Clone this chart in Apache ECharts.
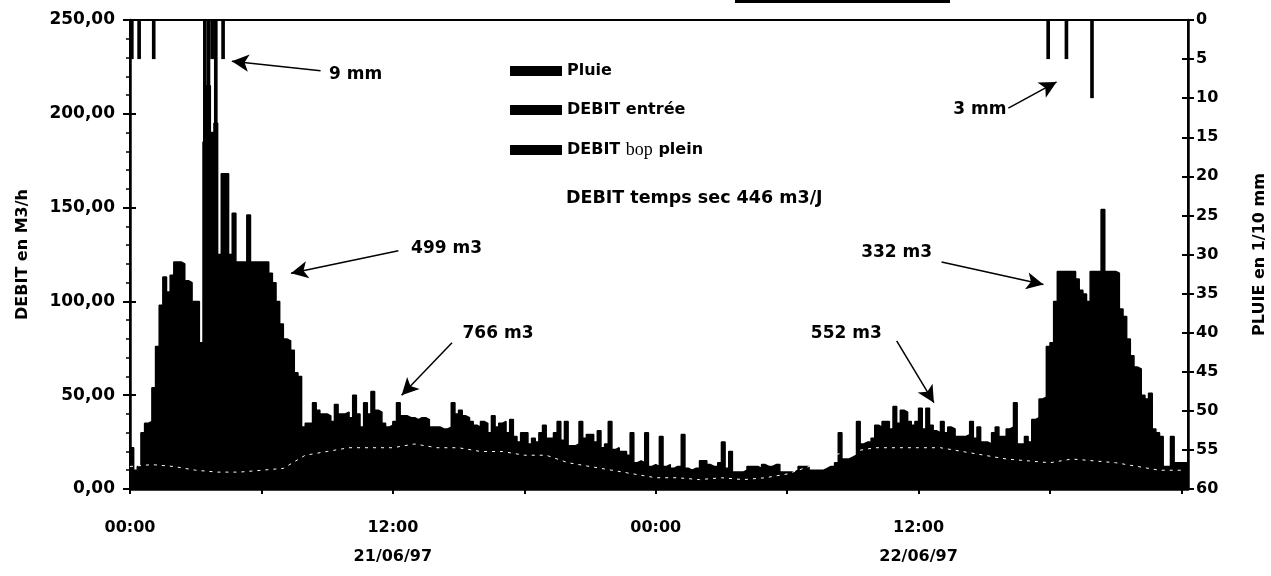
<!DOCTYPE html>
<html>
<head>
<meta charset="utf-8">
<script src="https://cdn.jsdelivr.net/npm/echarts@6/dist/echarts.min.js"></script>
<style>
html,body{margin:0;padding:0;background:#fff;}
#chart{width:1271px;height:576px;}
</style>
</head>
<body>
<div id="chart"></div>
<script>
// ---------- DATA ----------
// DEBIT entrée (m3/h), 10-minute steps from 21/06/97 00:00 (48 h, 288 values)
const debitEntree = [
  22,10,12,30,35,36,   54,76,98,113,105,114,  121,121,120,111,110,100,  100,78,185,215,190,195,
  125,168,168,125,147,121, 121,121,146,121,121,121, 121,121,115,110,100,88, 80,79,74,62,60,33,
  35,35,46,42,40,40,   39,36,45,40,40,41,   38,50,40,33,46,40,   52,42,41,35,33,34,
  36,46,39,39,38,38,   37,38,38,37,33,33,   33,32,32,33,46,40,   42,39,38,36,34,33,
  36,35,30,39,33,35,   36,30,37,28,25,30,   30,24,27,25,30,34,   27,27,30,36,26,36,
  23,23,24,36,27,29,   29,25,31,22,24,36,   21,22,20,20,18,30,   14,15,14,30,12,13,
  12,28,12,13,11,12,   12,29,11,10,11,11,   15,15,13,12,12,14,   25,11,20,9,9,9,
  10,12,12,12,11,13,   12,12,13,13,9,9,     9,9,10,12,12,12,     10,10,10,10,11,12,
  12,14,30,16,16,17,   18,36,24,25,25,27,   34,33,36,36,32,44,   35,42,41,36,34,36,
  43,32,43,34,31,30,   36,30,33,32,28,28,   28,29,36,27,33,25,   25,24,30,33,28,28,
  32,33,46,24,24,28,   25,37,38,48,49,76,   78,100,116,116,116,116, 116,112,106,104,100,116,
  116,116,149,116,116,116, 115,96,92,80,71,65, 64,50,48,51,32,30, 28,12,12,28,14,14
];
// DEBIT bop plein (m3/h), hourly 0..48 h
const debitBopPlein = [
  12,13,12,10,9,9,10,11,18,20,22,22,22,24,22,22,20,20,18,18,14,12,10,8,
  6,6,5,6,5,6,8,12,18,20,22,22,22,22,20,18,16,15,14,16,15,14,12,10,10
];
// Pluie (1/10 mm) : 10-minute slot index and value
const pluieSlots  = [0, 2, 6, 20, 21, 22, 23, 25, 251, 256, 263];
const pluieValues = [5, 5, 5, 20, 20, 5, 15, 5, 5, 5, 10];

// x axis labels (hours from 21/06/97 00:00)
const xLabelHours = [0, 12, 24, 36];
const xLabelTexts = ['00:00', '12:00', '00:00', '12:00'];
const xDateTexts  = ['', '21/06/97', '', '22/06/97'];

// annotations
const annoTexts = ['9 mm', '499 m3', '766 m3', '552 m3', '332 m3', '3 mm'];
const annoTextAt = [[10.3, 221], [14.45, 128], [16.8, 83], [32.7, 83], [35.0, 126], [38.8, 202]];
const annoFrom = [[8.7, 223], [12.25, 127], [14.7, 78], [35.0, 79], [37.05, 121], [40.1, 203]];
const annoTo   = [[4.65, 228], [7.35, 115], [12.4, 50], [36.7, 46], [41.7, 109], [42.3, 217]];

// ---------- BUILD ----------
const SLOT = 1 / 6;
const X_MAX = 48.3;
const entreeData = debitEntree.map((v, i) => [i * SLOT, v]);
entreeData.push([X_MAX, debitEntree[debitEntree.length - 1]]);
const bopData = debitBopPlein.map((v, i) => [i, v]);
const pluieData = pluieSlots.map((s, i) => [s * SLOT + SLOT / 2, pluieValues[i]]);

const FONT = 'DejaVu Sans';
const chart = echarts.init(document.getElementById('chart'), null, {renderer: 'canvas'});

const gridLeft = 130, gridRight = 83, gridTop = 20, gridBottom = 87;
const plotW = 1271 - gridLeft - gridRight;
const barW = plotW / (X_MAX * 6);

const option = {
  animation: false,
  backgroundColor: '#fff',
  grid: {left: gridLeft, right: gridRight, top: gridTop, bottom: gridBottom,
         containLabel: false, outerBoundsMode: 'none',
         show: true, borderColor: '#000', borderWidth: 2, backgroundColor: 'transparent'},
  legend: {
    orient: 'vertical', left: 505, top: 58, itemWidth: 52, itemHeight: 10, itemGap: 23,
    icon: 'rect', selectedMode: false,
    textStyle: {fontFamily: FONT, fontWeight: 'bold', fontSize: 16, color: '#000',
      rich: {s: {fontFamily: 'Liberation Serif', fontWeight: 'normal', fontSize: 18, color: '#000'}}},
    formatter: n => n === 'DEBIT bop plein' ? 'DEBIT {s|bop} plein' : n,
    data: [{name: 'Pluie'}, {name: 'DEBIT entrée'},
           {name: 'DEBIT bop plein', itemStyle: {color: '#000'}}]
  },
  xAxis: {
    type: 'value', min: 0, max: X_MAX, interval: 6,
    axisLine: {lineStyle: {color: '#000', width: 2.5}},
    axisTick: {show: true, length: 5, lineStyle: {color: '#000', width: 2}},
    splitLine: {show: false},
    axisLabel: {
      margin: 24, lineHeight: 29, fontFamily: FONT, fontWeight: 'bold', fontSize: 16, color: '#000',
      showMaxLabel: false,
      formatter: v => {
        const k = xLabelHours.indexOf(v);
        if (k < 0) return '';
        return xDateTexts[k] ? xLabelTexts[k] + '\n' + xDateTexts[k] : xLabelTexts[k];
      }
    }
  },
  yAxis: [
    {
      type: 'value', min: 0, max: 250, interval: 50, position: 'left',
      name: 'DEBIT en M3/h', nameLocation: 'middle', nameRotate: 90, nameGap: 99,
      nameTextStyle: {fontFamily: FONT, fontWeight: 'bold', fontSize: 16, color: '#000'},
      axisLine: {show: true, lineStyle: {color: '#000', width: 2.5}},
      axisTick: {show: true, length: 7, lineStyle: {color: '#000', width: 2}},
      minorTick: {show: true, splitNumber: 5, length: 4, lineStyle: {color: '#000', width: 1.5}},
      splitLine: {show: false},
      axisLabel: {margin: 15, fontFamily: FONT, fontWeight: 'bold', fontSize: 17, color: '#000',
                  formatter: v => v.toFixed(2).replace('.', ',')}
    },
    {
      type: 'value', min: 0, max: 60, interval: 5, position: 'right', inverse: true,
      name: 'PLUIE en 1/10 mm', nameLocation: 'middle', nameRotate: 90, nameGap: 64,
      nameTextStyle: {fontFamily: FONT, fontWeight: 'bold', fontSize: 16, color: '#000'},
      axisLine: {show: true, lineStyle: {color: '#000', width: 2.5}},
      axisTick: {show: true, length: 6, lineStyle: {color: '#000', width: 2}},
      splitLine: {show: false},
      axisLabel: {margin: 8, fontFamily: FONT, fontWeight: 'bold', fontSize: 16, color: '#000'}
    },
    {
      type: 'value', min: 0, max: 250, interval: 50, position: 'left',
      axisLine: {show: false}, axisLabel: {show: false}, splitLine: {show: false},
      axisTick: {show: true, inside: true, length: 6, lineStyle: {color: '#000', width: 2}}
    },
    {
      type: 'value', min: 0, max: 60, interval: 5, position: 'right', inverse: true,
      axisLine: {show: false}, axisLabel: {show: false}, splitLine: {show: false},
      axisTick: {show: true, inside: true, length: 6, lineStyle: {color: '#000', width: 2}}
    }
  ],
  series: [
    {
      name: 'DEBIT entrée', type: 'line', step: 'end', data: entreeData,
      xAxisIndex: 0, yAxisIndex: 0, showSymbol: false, z: 2,
      color: '#000',
      lineStyle: {color: '#000', width: 1.5},
      areaStyle: {color: '#000', opacity: 1},
      markLine: {
        silent: true, symbol: ['none', 'arrow'], symbolSize: [13, 17],
        label: {show: false},
        lineStyle: {color: '#000', width: 1.5, type: 'solid'},
        data: annoFrom.map((f, i) => [{coord: f}, {coord: annoTo[i]}])
      },
      markPoint: {
        silent: true, symbol: 'circle', symbolSize: 0,
        label: {show: true, position: 'inside', fontFamily: FONT, fontWeight: 'bold', fontSize: 17, color: '#000'},
        data: annoTexts.map((t, i) => ({coord: annoTextAt[i], value: t,
          label: {formatter: t}}))
      }
    },
    {
      name: 'DEBIT bop plein', type: 'line', data: bopData,
      xAxisIndex: 0, yAxisIndex: 0, showSymbol: false, z: 3,
      color: '#fff',
      lineStyle: {color: '#fff', width: 1, type: [3, 5]}
    },
    {
      name: 'Pluie', type: 'bar', data: pluieData,
      xAxisIndex: 0, yAxisIndex: 1, barWidth: barW, z: 4,
      color: '#000', itemStyle: {color: '#000'}
    }
  ],
  graphic: [
    {type: 'text', left: 566, top: 189, silent: true,
     style: {text: 'DEBIT temps sec 446 m3/J', font: 'bold 17.5px "DejaVu Sans"', fill: '#000'}},
    {type: 'rect', silent: true, shape: {x: 735, y: 0, width: 215, height: 3}, style: {fill: '#000'}}
  ]
};
chart.setOption(option);
</script>
</body>
</html>
